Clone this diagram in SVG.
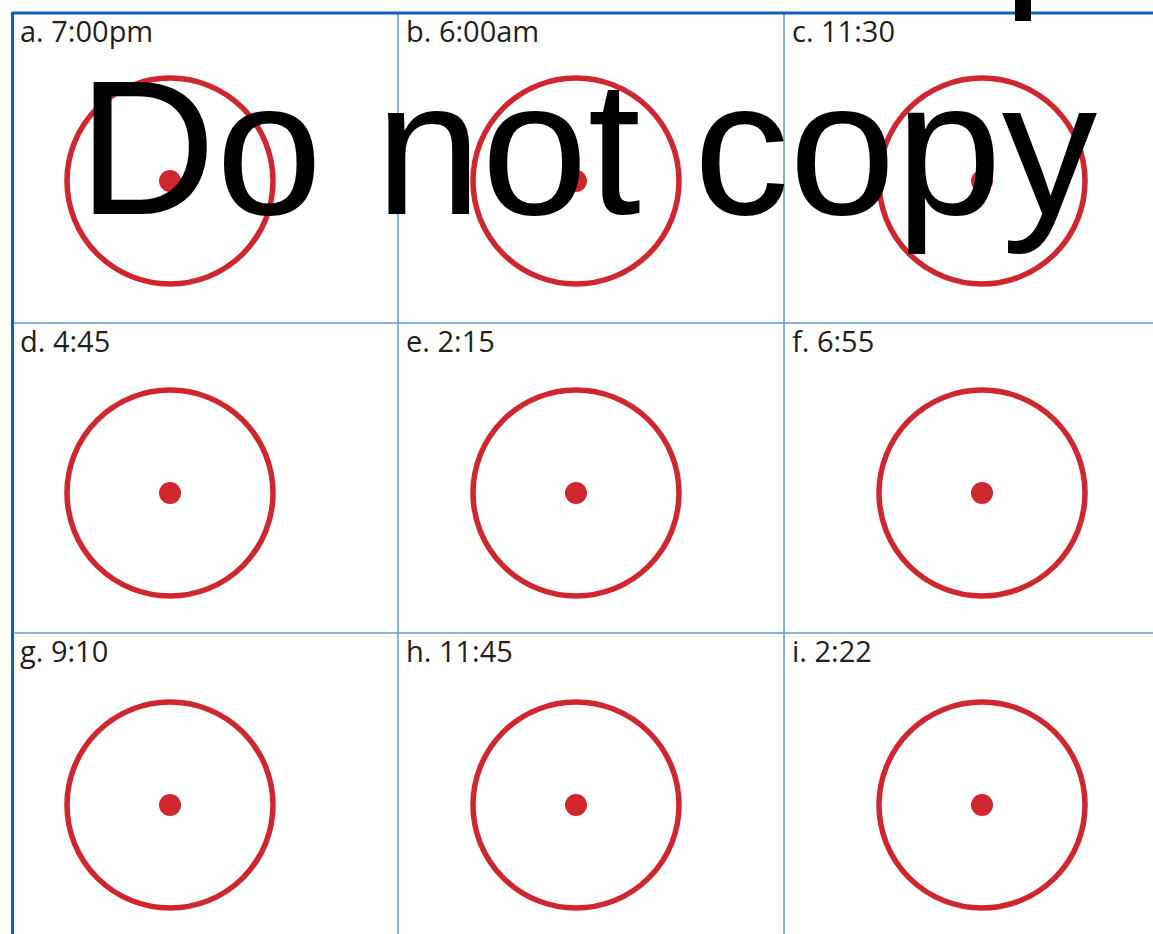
<svg xmlns="http://www.w3.org/2000/svg" width="1153" height="934" viewBox="0 0 1153 934">
<style>
.grid{stroke:#5b9bd5;stroke-width:1.5;fill:none}
.frame{stroke:#0a64b4;stroke-width:3;fill:none}
.dial{fill:none;stroke:#d0262e;stroke-width:5.5}
.hub{fill:#d0262e}
.lbl{font-family:"Open Sans","Liberation Sans",sans-serif;font-size:29px;fill:#231f20}
.wm{font-family:"Liberation Sans",Arial,sans-serif;font-size:191px;fill:#000}
</style>
<rect width="1153" height="934" fill="#fff"/>
<g id="grid">
<line class="grid" x1="398" y1="13" x2="398" y2="934"/>
<line class="grid" x1="784" y1="13" x2="784" y2="934"/>
<line class="grid" x1="12" y1="323" x2="1153" y2="323"/>
<line class="grid" x1="12" y1="633" x2="1153" y2="633"/>
<line class="frame" x1="12" y1="13" x2="1153" y2="13"/>
<line class="frame" x1="12.5" y1="12" x2="12.5" y2="934"/>
</g>
<g id="clock-a"><text class="lbl" x="20" y="42">a. 7:00pm</text><circle class="dial" cx="170" cy="181" r="103"/><circle class="hub" cx="170" cy="181" r="11"/></g>
<g id="clock-b"><text class="lbl" x="406" y="42">b. 6:00am</text><circle class="dial" cx="576" cy="181" r="103"/><circle class="hub" cx="576" cy="181" r="11"/></g>
<g id="clock-c"><text class="lbl" x="792" y="42">c. 11:30</text><circle class="dial" cx="982" cy="181" r="103"/><circle class="hub" cx="982" cy="181" r="11"/></g>
<g id="clock-d"><text class="lbl" x="20" y="352">d. 4:45</text><circle class="dial" cx="170" cy="493" r="103"/><circle class="hub" cx="170" cy="493" r="11"/></g>
<g id="clock-e"><text class="lbl" x="406" y="352">e. 2:15</text><circle class="dial" cx="576" cy="493" r="103"/><circle class="hub" cx="576" cy="493" r="11"/></g>
<g id="clock-f"><text class="lbl" x="792" y="352">f. 6:55</text><circle class="dial" cx="982" cy="493" r="103"/><circle class="hub" cx="982" cy="493" r="11"/></g>
<g id="clock-g"><text class="lbl" x="20" y="662">g. 9:10</text><circle class="dial" cx="170" cy="805" r="103"/><circle class="hub" cx="170" cy="805" r="11"/></g>
<g id="clock-h"><text class="lbl" x="406" y="662">h. 11:45</text><circle class="dial" cx="576" cy="805" r="103"/><circle class="hub" cx="576" cy="805" r="11"/></g>
<g id="clock-i"><text class="lbl" x="792" y="662">i. 2:22</text><circle class="dial" cx="982" cy="805" r="103"/><circle class="hub" cx="982" cy="805" r="11"/></g>
<rect x="1015" y="0" width="16" height="21" fill="#000"/>
<text class="wm" x="78" y="214">Do not copy</text>
</svg>
